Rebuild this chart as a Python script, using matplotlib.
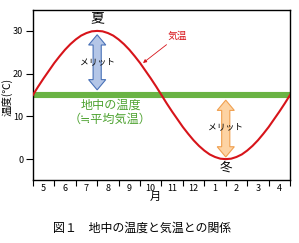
import matplotlib
matplotlib.use("Agg")
import matplotlib.pyplot as plt
from matplotlib.patches import Polygon

plt.rcParams["font.family"] = ["Noto Sans CJK JP", "DejaVu Sans"]

# ------------------------------
# Data
# ------------------------------
MONTH_LABELS = ["5", "6", "7", "8", "9", "10", "11", "12", "1", "2", "3", "4"]

# air temperature, every quarter month from start of May
CURVE_X = [i * 0.25 for i in range(49)]
CURVE_T = [15, 17.0, 18.9, 20.7, 22.5, 24.1, 25.6, 26.9, 28.0, 28.9, 29.5, 29.9, 30,
           29.9, 29.5, 28.9, 28.0, 26.9, 25.6, 24.1, 22.5, 20.7, 18.9, 17.0, 15,
           13.0, 11.1, 9.3, 7.5, 5.9, 4.4, 3.1, 2.0, 1.1, 0.5, 0.1, 0,
           0.1, 0.5, 1.1, 2.0, 3.1, 4.4, 5.9, 7.5, 9.3, 11.1, 13.0, 15]

GROUND_T = 15

RED = "#d7141a"
GREEN = "#6ab344"
GREEN_TXT = "#4fa332"


def double_arrow(ax, x, y0, y1, face, edge):
    half_shaft = 0.19
    half_head = 0.40
    head = 2.4
    pts = [
        (x, y1),
        (x + half_head, y1 - head),
        (x + half_shaft, y1 - head),
        (x + half_shaft, y0 + head),
        (x + half_head, y0 + head),
        (x, y0),
        (x - half_head, y0 + head),
        (x - half_shaft, y0 + head),
        (x - half_shaft, y1 - head),
        (x - half_head, y1 - head),
    ]
    ax.add_patch(Polygon(pts, closed=True, facecolor=face, edgecolor=edge,
                         linewidth=0.8, zorder=4))


fig = plt.figure(figsize=(2.99, 2.43), dpi=100)
ax = fig.add_axes([0.110, 0.259, 0.860, 0.700])

ax.axhline(GROUND_T, color=GREEN, linewidth=4.4, zorder=2)
ax.plot(CURVE_X, CURVE_T, color=RED, linewidth=1.5, zorder=3)

ax.set_xlim(0, 12)
ax.set_ylim(-4.9, 34.9)

ax.set_yticks([0, 10, 20, 30])
ax.tick_params(axis="y", length=5, width=0.8, pad=2, labelsize=6.5)

ax.set_xticks(range(13))
ax.set_xticklabels([])
ax.set_xticks([i + 0.5 for i in range(12)], minor=True)
ax.set_xticklabels(MONTH_LABELS, minor=True)
ax.tick_params(axis="x", which="major", length=4, width=0.8)
ax.tick_params(axis="x", which="minor", length=0, pad=3, labelsize=6.5)

for s in ax.spines.values():
    s.set_linewidth(1.0)

# arrows
double_arrow(ax, 3.0, 16.2, 29.1, "#b4c6e7", "#4a72b8")
double_arrow(ax, 9.0, 0.5, 13.8, "#fdd3a3", "#f0a050")
ax.text(3.0, 22.7, "メリット", ha="center", va="center", fontsize=6.3, zorder=5)
ax.text(9.0, 7.5, "メリット", ha="center", va="center", fontsize=6.3, zorder=5)

ax.text(3.0, 33.0, "夏", ha="center", va="center", fontsize=10)
ax.text(9.0, -1.9, "冬", ha="center", va="center", fontsize=9)

ax.text(3.64, 12.6, "地中の温度", ha="center", va="center",
        fontsize=8.7, color=GREEN_TXT)
ax.text(3.62, 9.4, "（≒平均気温）", ha="center", va="center",
        fontsize=8.7, color=GREEN_TXT)

ax.annotate("気温", xy=(5.14, 22.5), xytext=(6.3, 28.8),
            fontsize=7, color=RED, ha="left", va="center",
            arrowprops=dict(arrowstyle="-|>", color=RED, lw=0.6,
                            mutation_scale=5, shrinkA=1, shrinkB=0))

fig.text(7.5 / 299, 0.600, "温度(℃)", rotation=90, ha="center", va="center",
         fontsize=7.5)
fig.text(0.518, 0.189, "月", ha="center", va="center", fontsize=8)
fig.text(0.177, 0.062, "図１　地中の温度と気温との関係", ha="left", va="center",
         fontsize=8.6)

fig.savefig("out.png", dpi=100)
